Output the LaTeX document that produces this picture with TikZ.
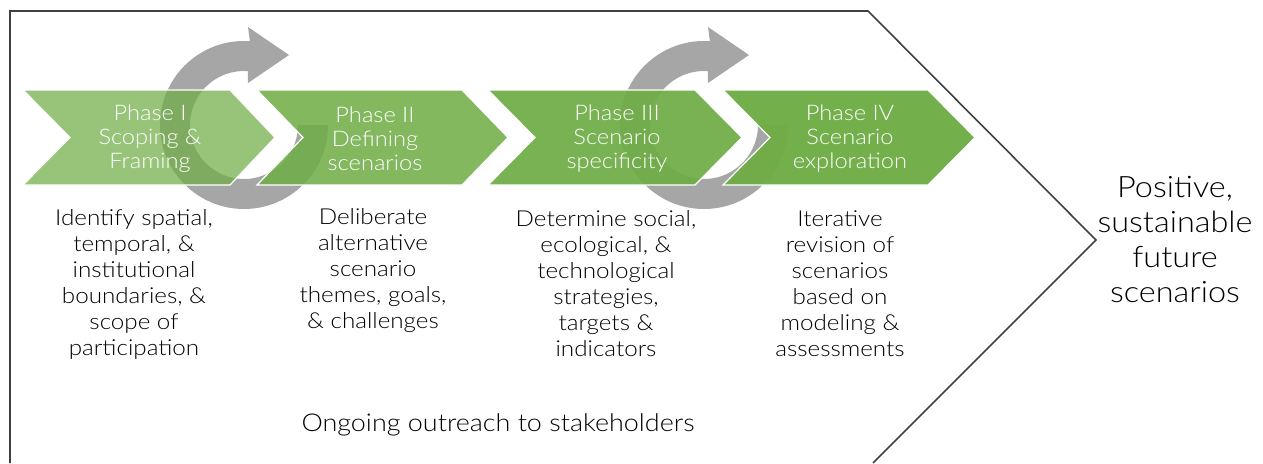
\documentclass[tikz,border=0pt]{standalone}
\usepackage{fontspec}
\IfFontExistsTF{Lato Light}{\setmainfont{Lato Light}[FakeStretch=1.1]}{\setmainfont{Liberation Sans}}
\definecolor{phasegreen}{HTML}{70AD47}
\definecolor{loopgray}{HTML}{A6A6A6}
\definecolor{framegray}{HTML}{404040}

\begin{document}
\begin{tikzpicture}[x=1pt,y=-1pt,
  chevronbox/.style={fill=phasegreen, draw=white, line width=1.2pt, line join=miter},
  looparrow/.style={fill=loopgray},
  outline/.style={draw=framegray, line width=1.6pt, line join=miter},
  phaselabel/.style={text=white, align=center, inner sep=0pt,
    font=\fontsize{21.5}{24}\selectfont},
  desclabel/.style={text=black, align=center, inner sep=0pt,
    font=\fontsize{22}{26}\selectfont},
  goallabel/.style={text=black, align=center, inner sep=0pt,
    font=\fontsize{29.5}{35}\selectfont}]
\useasboundingbox (0,0) rectangle (1263,463);

% large arrow frame pointing at the goal
\coordinate (fbl) at (10,463);
\coordinate (ftl) at (10,11);
\coordinate (ftr) at (868,11);
\coordinate (ftip) at (1096,240);
\coordinate (fbr) at (873,463);
\draw[outline] (fbl) -- (ftl) -- (ftr) -- (ftip) -- (fbr);

% circular iteration arrows (behind the phase chevrons)
\fill[looparrow] (328,125) arc[start angle=0,end angle=274,radius=84]
  -- (248,27) -- (289,55) -- (248,83) -- (247.77,71.13)
  arc[start angle=274,end angle=0,radius=54] -- cycle;
\fill[looparrow] (788,125) arc[start angle=0,end angle=274,radius=84]
  -- (708,27) -- (749,55) -- (708,83) -- (707.77,71.13)
  arc[start angle=274,end angle=0,radius=54] -- cycle;

% phase chevrons
\path[chevronbox, fill opacity=0.72]
  (23,90) -- (230,90) -- (275,137.5) -- (230,185) -- (23,185) -- (70,137.5) -- cycle;
\path[chevronbox, fill opacity=0.87]
  (257,90) -- (462,90) -- (508,137.5) -- (462,185) -- (257,185) -- (303,137.5) -- cycle;
\path[chevronbox, fill opacity=0.94]
  (488,90) -- (695,90) -- (742,137.5) -- (695,185) -- (488,185) -- (535,137.5) -- cycle;
\path[chevronbox, fill opacity=0.98]
  (723,90) -- (928,90) -- (975,137.5) -- (928,185) -- (723,185) -- (770,137.5) -- cycle;

% phase titles
\node[phaselabel] (p1) at (150,139) {Phase I\\Scoping \&\\Framing};
\node[phaselabel] (p2) at (375,139) {Phase II\\Defining\\scenarios};
\node[phaselabel] (p3) at (617,139) {Phase III\\Scenario\\specificity};
\node[phaselabel] (p4) at (850,139) {Phase IV\\Scenario\\exploration};

% phase descriptions
\node[desclabel] (d1) at (134,284) {Identify spatial,\\temporal, \&\\institutional\\boundaries, \&\\scope of\\participation};
\node[desclabel] (d2) at (373,271) {Deliberate\\alternative\\scenario\\themes, goals,\\\& challenges};
\node[desclabel] (d3) at (606,284) {Determine social,\\ecological, \&\\technological\\strategies,\\targets \&\\indicators};
\node[desclabel] (d4) at (840,284) {Iterative\\revision of\\scenarios\\based on\\modeling \&\\assessments};

% goal and outreach
\node[goallabel] (goal) at (1175,240) {Positive,\\sustainable\\future\\scenarios};
\node[desclabel, font=\fontsize{24.5}{28}\selectfont] (outreach) at (498,425) {Ongoing outreach to stakeholders};
\end{tikzpicture}
\end{document}
